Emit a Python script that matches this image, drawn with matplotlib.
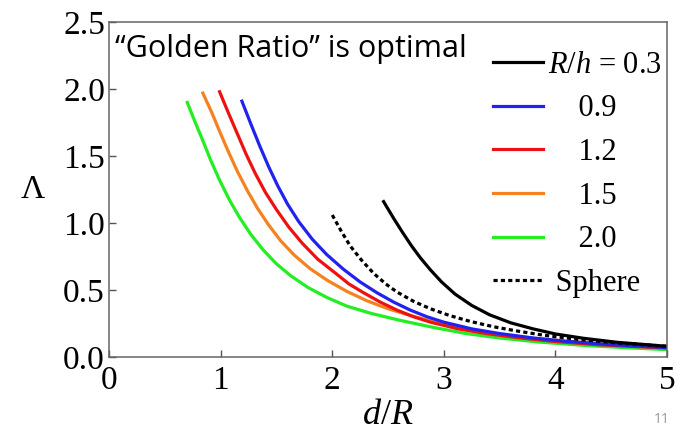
import matplotlib
matplotlib.use('Agg')
import matplotlib.pyplot as plt
from matplotlib.lines import Line2D

# values
black_x = [2.46, 2.55, 2.63, 2.71, 2.79, 2.88, 2.98, 3.10, 3.25, 3.41, 3.60, 3.80, 4.0, 4.25, 4.55, 5.0]
black_y = [1.16, 1.035, 0.93, 0.83, 0.74, 0.65, 0.56, 0.47, 0.385, 0.315, 0.255, 0.21, 0.172, 0.14, 0.11, 0.08]
sphere_x = [2.0, 2.08, 2.16, 2.26, 2.37, 2.48, 2.58, 2.73, 2.88, 3.05, 3.24, 3.45, 3.65, 3.9, 4.2, 4.55, 5.0]
sphere_y = [1.06, 0.94, 0.83, 0.725, 0.625, 0.545, 0.485, 0.415, 0.36, 0.31, 0.265, 0.225, 0.195, 0.162, 0.132, 0.105, 0.08]
blue_x = [1.19, 1.27, 1.35, 1.43, 1.51, 1.60, 1.70, 1.82, 1.95, 2.10, 2.25, 2.40, 2.55, 2.70, 2.85, 3.0, 3.25, 3.5, 3.8, 4.1, 4.5, 5.0]
blue_y = [1.91, 1.74, 1.575, 1.42, 1.28, 1.14, 1.01, 0.88, 0.765, 0.655, 0.56, 0.48, 0.41, 0.35, 0.30, 0.26, 0.21, 0.175, 0.142, 0.117, 0.092, 0.07]
red_x = [0.99, 1.07, 1.15, 1.23, 1.31, 1.40, 1.50, 1.61, 1.73, 1.87, 2.03, 2.15, 2.28, 2.43, 2.58, 2.73, 2.88, 3.13, 3.38, 3.68, 3.98, 4.38, 5.0]
red_y = [1.98, 1.82, 1.665, 1.51, 1.37, 1.23, 1.10, 0.97, 0.85, 0.73, 0.625, 0.545, 0.48, 0.41, 0.35, 0.30, 0.26, 0.21, 0.175, 0.143, 0.117, 0.092, 0.067]
orange_x = [0.84, 0.92, 0.99, 1.07, 1.15, 1.24, 1.33, 1.43, 1.54, 1.66, 1.80, 1.96, 2.13, 2.31, 2.50, 2.70, 2.90, 3.15, 3.45, 3.8, 4.2, 4.6, 5.0]
orange_y = [1.97, 1.825, 1.685, 1.53, 1.385, 1.24, 1.11, 0.985, 0.865, 0.76, 0.66, 0.57, 0.49, 0.42, 0.36, 0.31, 0.265, 0.218, 0.176, 0.14, 0.11, 0.086, 0.064]
green_x = [0.70, 0.77, 0.84, 0.91, 0.99, 1.08, 1.17, 1.27, 1.38, 1.50, 1.63, 1.78, 1.95, 2.13, 2.35, 2.60, 2.90, 3.2, 3.5, 3.85, 4.25, 4.6, 5.0]
green_y = [1.90, 1.755, 1.615, 1.47, 1.32, 1.17, 1.04, 0.915, 0.80, 0.695, 0.605, 0.52, 0.445, 0.38, 0.325, 0.275, 0.222, 0.175, 0.142, 0.112, 0.087, 0.071, 0.055]

legend_labels = ['$R/h$ = 0.3', '    0.9', '    1.2', '    1.5', '    2.0', ' Sphere']
x_ticks = [0, 1, 2, 3, 4, 5]
y_ticks = [0.0, 0.5, 1.0, 1.5, 2.0, 2.5]

c_black = 'black'
c_blue = '#2222ee'
c_red = '#ee1111'
c_orange = '#f5821f'
c_green = '#22ee22'
dots = (0, (1.3, 1.0))

plt.rcParams['font.family'] = 'Liberation Serif'
plt.rcParams['mathtext.fontset'] = 'custom'
plt.rcParams['mathtext.it'] = 'Liberation Serif:italic'
plt.rcParams['mathtext.rm'] = 'Liberation Serif'
plt.rcParams['lines.solid_joinstyle'] = 'round'

fig = plt.figure(figsize=(6.82, 4.33), dpi=100)
ax = fig.add_axes([0.160, 0.1755, 0.818, 0.7735])

lw = 2.3
ax.plot(green_x, green_y, color=c_green, lw=lw)
ax.plot(orange_x, orange_y, color=c_orange, lw=lw)
ax.plot(red_x, red_y, color=c_red, lw=lw)
ax.plot(blue_x, blue_y, color=c_blue, lw=lw)
ax.plot(sphere_x, sphere_y, color=c_black, lw=lw, ls=dots)
ax.plot(black_x, black_y, color=c_black, lw=lw)

ax.set_xlim(0, 5)
ax.set_ylim(0, 2.5)
ax.set_xticks(x_ticks)
ax.set_yticks(y_ticks)
ax.set_xticklabels([str(t) for t in x_ticks])
ax.set_yticklabels(['%.1f' % t for t in y_ticks])
ax.tick_params(direction='in', length=5, width=1, labelsize=24, colors='#555555',
               labelcolor='black')
ax.tick_params(axis='x', pad=6)
ax.tick_params(axis='y', pad=3)
for s in ax.spines.values():
    s.set_color('#666666')
    s.set_linewidth(1.1)

ax.set_xlabel('$d/R$', fontsize=26, labelpad=2)
ax.set_ylabel('Λ', fontsize=24, rotation=0, labelpad=22, va='center')

handles = [Line2D([], [], color=c, lw=lw) for c in [c_black, c_blue, c_red, c_orange, c_green]]
handles.append(Line2D([], [], color=c_black, lw=lw, ls=dots))
leg = ax.legend(handles, legend_labels, loc='upper left', bbox_to_anchor=(0.688, 0.915),
                frameon=False, fontsize=22, handlelength=1.63, handletextpad=0.16,
                labelspacing=0.48, borderaxespad=0, borderpad=0)

ax.text(0.01, 0.965, '\u201cGolden Ratio\u201d is optimal', transform=ax.transAxes,
        family='Open Sans', fontsize=22, va='top', ha='left')

fig.text(0.982, 0.015, '11', family='Open Sans', fontsize=10, color='#9a9a9a',
         ha='right', va='bottom')

fig.savefig('out.png', dpi=100)
